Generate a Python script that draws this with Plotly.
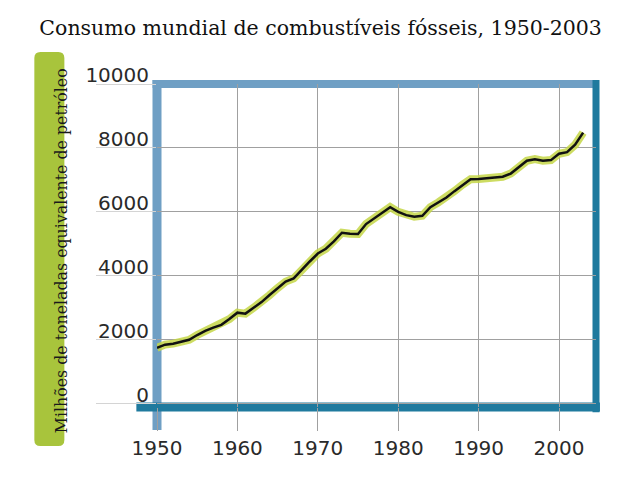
import plotly.graph_objects as go

# ---- data ----
years = list(range(1950, 2004))
consumption = [
    1750, 1850, 1880, 1930, 2000, 2150, 2280, 2380, 2470, 2650,
    2850, 2820, 3000, 3180, 3400, 3620, 3820, 3920, 4200, 4450,
    4700, 4850, 5080, 5350, 5320, 5310, 5620, 5800, 5970, 6150,
    6000, 5900, 5850, 5880, 6150, 6300, 6450, 6650, 6850, 7020,
    7030, 7060, 7080, 7100, 7200, 7400, 7600, 7650, 7600, 7620,
    7820, 7870, 8100, 8480,
]
x_ticks = [1950, 1960, 1970, 1980, 1990, 2000]
y_ticks = [0, 2000, 4000, 6000, 8000, 10000]
y_tick_labels = ["0", "2000", "4000", "6000", "8000", "10000"]
title_text = "Consumo mundial de combustíveis fósseis, 1950-2003"
y_title = "Milhões de toneladas equivalente de petróleo"

LIGHT = "#6f9fc4"
DARK = "#1f7a9e"
GREEN = "#a8c43c"

fig = go.Figure()
fig.add_trace(go.Scatter(x=years, y=consumption, mode="lines",
                         line=dict(color="rgba(196,214,70,0.85)", width=8),
                         cliponaxis=False, hoverinfo="skip", showlegend=False))
fig.add_trace(go.Scatter(x=years, y=consumption, mode="lines",
                         line=dict(color="#111111", width=2.5),
                         cliponaxis=False, showlegend=False))

# frame bars (paper coords)
shapes = [
    dict(type="line", xref="paper", yref="paper", x0=0, x1=0, y0=1.012, y1=-0.071,
         line=dict(color=LIGHT, width=9), layer="between"),
    dict(type="line", xref="paper", yref="paper", x0=-0.01, x1=1.004, y0=1.0, y1=1.0,
         line=dict(color=LIGHT, width=8), layer="between"),
    dict(type="line", xref="paper", yref="paper", x0=1.0, x1=1.0, y0=1.012, y1=-0.016,
         line=dict(color=DARK, width=7), layer="between"),
    dict(type="line", xref="paper", yref="paper", x0=-0.047, x1=1.009, y0=0.0, y1=0.0,
         line=dict(color=DARK, width=9), layer="between"),
]
# rounded green box for y title
x0, x1, y0, y1 = -0.2794, -0.211, -0.1207, 1.099
rx, ry = 0.0137, 0.0186
path = (f"M {x0+rx},{y0} L {x1-rx},{y0} Q {x1},{y0} {x1},{y0+ry} "
        f"L {x1},{y1-ry} Q {x1},{y1} {x1-rx},{y1} L {x0+rx},{y1} "
        f"Q {x0},{y1} {x0},{y1-ry} L {x0},{y0+ry} Q {x0},{y0} {x0+rx},{y0} Z")
shapes.append(dict(type="path", xref="paper", yref="paper", path=path,
                   fillcolor=GREEN, line=dict(width=0), layer="below"))

fig.update_layout(
    width=640, height=480,
    margin=dict(l=149, r=52, t=76, b=81),
    paper_bgcolor="white", plot_bgcolor="white",
    title=dict(text=title_text, x=0.4885, xref="container", xanchor="center",
               y=1 - 20 / 480, yanchor="middle",
               font=dict(family="DejaVu Serif", size=20.5, color="#111111")),
    shapes=shapes,
    annotations=[dict(text=y_title, xref="paper", yref="paper", x=-0.245, y=0.485,
                      textangle=-90, showarrow=False,
                      font=dict(family="DejaVu Serif", size=15.8, color="#1a1a1a"))],
)
fig.update_xaxes(range=[1950, 2004.6], tickvals=x_ticks, showgrid=True, automargin=False,
                 gridcolor="#a0a0a0", gridwidth=1, zeroline=False, showline=False,
                 ticks="outside", ticklen=23, tickcolor="#a0a0a0", tickwidth=1,
                 tickfont=dict(family="DejaVu Sans", size=20, color="#2a2a2a"))
fig.update_yaxes(range=[-100, 10000], tickvals=y_ticks, ticktext=y_tick_labels,
                 showgrid=True, automargin=False,
                 gridcolor="#a0a0a0", gridwidth=1, zeroline=False, showline=False,
                 ticks="outside", ticklen=60, tickcolor="#d4d4d4", tickwidth=1,
                 ticklabelstandoff=-57, ticklabelshift=-9,
                 tickfont=dict(family="DejaVu Sans", size=20, color="#2a2a2a"))

fig.write_html("out.html")
